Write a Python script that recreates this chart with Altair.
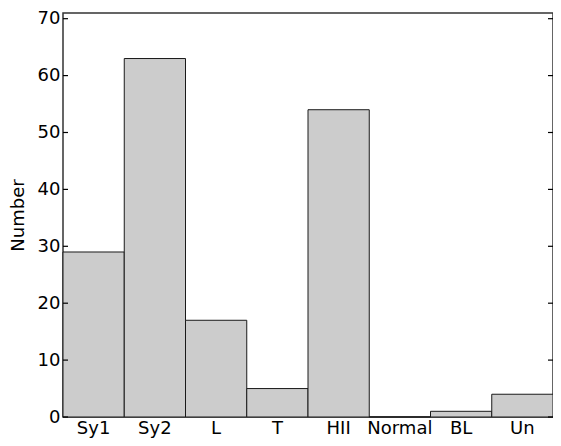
import altair as alt
import pandas as pd

categories = ["Sy1", "Sy2", "L", "T", "HII", "Normal", "BL", "Un"]
counts = [29, 63, 17, 5, 54, 0, 1, 4]
y_ticks = [0, 10, 20, 30, 40, 50, 60, 70]

df = pd.DataFrame({"cat": categories, "n": counts})
ticks_df = pd.DataFrame({"t": y_ticks})

W, H = 490, 404
font = "DejaVu Sans"

yscale = alt.Scale(domain=[0, 71], nice=False, zero=True)

bars = alt.Chart(df).mark_bar(
    fill="#cccccc", stroke="#1a1a1a", strokeWidth=1
).encode(
    x=alt.X("cat:N", sort=categories, title=None,
            scale=alt.Scale(paddingInner=0, paddingOuter=0),
            axis=alt.Axis(labelAngle=0, tickSize=0, domain=False,
                          labelFontSize=18, labelFont=font, labelColor="black",
                          labelPadding=2)),
    y=alt.Y("n:Q", scale=yscale, title="Number",
            axis=alt.Axis(values=y_ticks, tickSize=0, domain=False, grid=False,
                          labelFontSize=18, labelFont=font, labelColor="black",
                          labelPadding=3, titleFontSize=18, titleFont=font,
                          titleFontWeight="normal", titleColor="black",
                          titlePadding=10)),
)

left_ticks = alt.Chart(ticks_df).mark_rule(color="black", strokeWidth=1.2).encode(
    y=alt.Y("t:Q", scale=yscale),
    x=alt.value(0), x2=alt.value(5),
)
right_ticks = alt.Chart(ticks_df).mark_rule(color="black", strokeWidth=1.2).encode(
    y=alt.Y("t:Q", scale=yscale),
    x=alt.value(W - 5), x2=alt.value(W),
)

chart = alt.layer(bars, left_ticks, right_ticks).properties(
    width=W, height=H,
    background="white",
    autosize=alt.AutoSizeParams(type="none"),
    padding={"left": 55, "top": 5, "right": 0, "bottom": 21},
).configure_view(stroke="#333333", strokeWidth=1.5)

chart.save("out.html", embed_options={"renderer": "svg", "actions": False})
